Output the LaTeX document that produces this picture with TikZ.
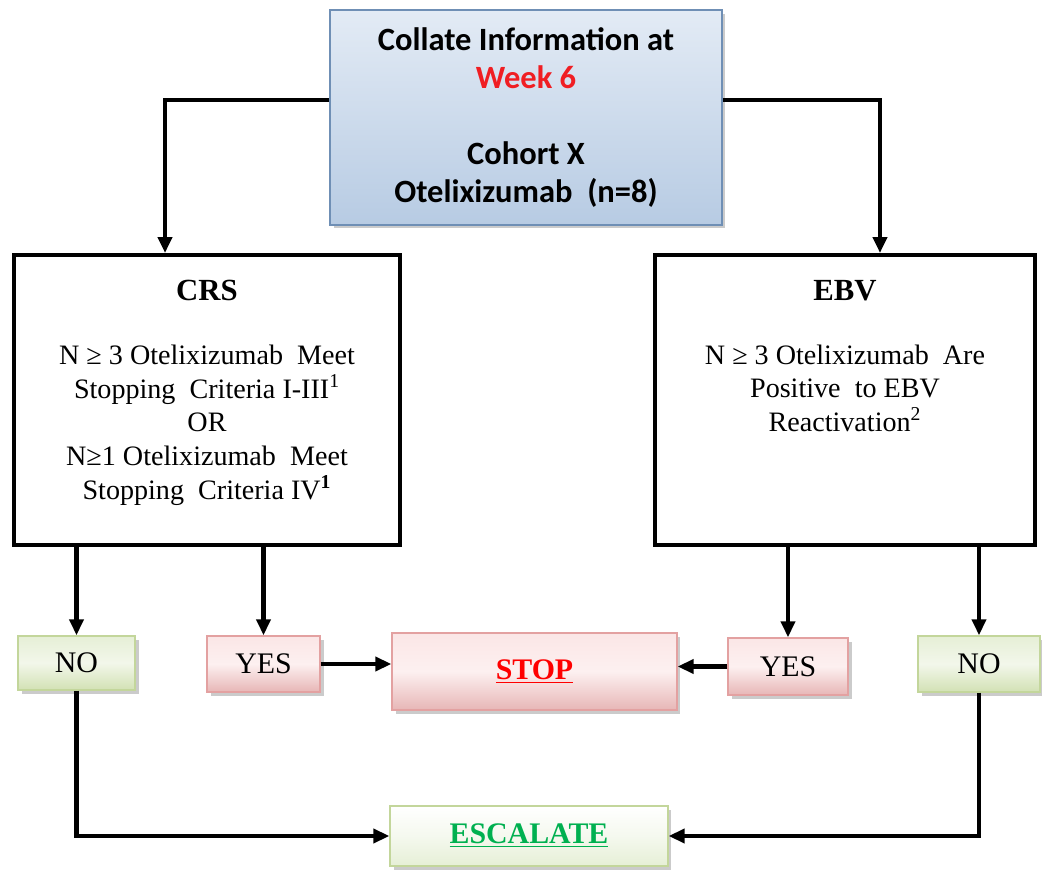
\documentclass[tikz,border=0pt]{standalone}
\usepackage{fontspec}
\setmainfont{Liberation Serif}
\newfontfamily\calibri{Carlito}
\usepackage{xcolor}
\definecolor{infotop}{HTML}{E3EBF5}
\definecolor{infobottom}{HTML}{B7CBE3}
\definecolor{infoborder}{HTML}{6F8FB5}
\definecolor{weekred}{HTML}{F01E23}
\definecolor{pinktop}{HTML}{FBE6E6}
\definecolor{pinkbottom}{HTML}{E7B6B6}
\definecolor{pinkborder}{HTML}{E3A1A1}
\definecolor{greentop}{HTML}{E6EFD6}
\definecolor{greenbottom}{HTML}{D2E1B4}
\definecolor{greenborder}{HTML}{C3D69B}
\definecolor{stopred}{HTML}{FF0000}
\definecolor{escgreen}{HTML}{00B050}
\usetikzlibrary{arrows.meta, shadows}
\tikzset{
  >={Triangle[length=3.2mm, width=2.8mm]},
  every node/.style={font=\fontsize{16}{19.2}\selectfont},
  softshadow/.style={drop shadow={shadow xshift=2pt, shadow yshift=-2pt,
    fill=black!45, opacity=0.45}},
  infobox/.style={
    rectangle, draw=infoborder, line width=0.9pt, top color=infotop,
    bottom color=infobottom, softshadow, align=center,
    font=\calibri\bfseries\fontsize{18.5}{21.5}\selectfont
  },
  critbox/.style={
    rectangle, draw=black, line width=2.3pt, fill=white
  },
  crittext/.style={align=center, anchor=north, inner sep=0pt},
  yesbox/.style={
    rectangle, draw=pinkborder, line width=0.8pt, top color=pinktop,
    bottom color=pinkbottom, middle color=pinktop!60!white, softshadow,
    align=center, font=\fontsize{17}{20}\selectfont
  },
  nobox/.style={
    rectangle, draw=greenborder, line width=0.8pt, top color=greentop,
    bottom color=greenbottom, middle color=greentop!50!white, softshadow,
    align=center, font=\fontsize{17}{20}\selectfont
  },
  flow/.style={->, black, line width=2.3pt}
}

\begin{document}
\begin{tikzpicture}[x=0.02cm, y=-0.02cm]
\useasboundingbox (0,0) rectangle (1042,878);

% Collate box
\node[infobox, minimum width=7.84cm, minimum height=4.3cm] (top) at (526,117.5)
  {Collate Information at\\
   \textcolor{weekred}{Week 6}\\[21.5pt]
   Cohort X\\
   Otelixizumab~ (n=8)};

% Criteria boxes
\node[critbox, minimum width=7.72cm, minimum height=5.8cm] (crs) at (207,400) {};
\node[crittext] (crsT) at ([yshift=-0.54cm]crs.north)
  {\textbf{\fontsize{17.5}{20}\selectfont CRS}\\[17pt]
   N ≥ 3 Otelixizumab~ Meet\\
   Stopping~ Criteria I-III\textsuperscript{1}\\
   OR\\
   N≥1 Otelixizumab~ Meet\\
   Stopping~ Criteria IV\textsuperscript{\textbf{1}}};
\node[critbox, minimum width=7.6cm, minimum height=5.8cm] (ebv) at (845,400) {};
\node[crittext] (ebvT) at ([yshift=-0.54cm]ebv.north)
  {\textbf{\fontsize{17.5}{20}\selectfont EBV}\\[17pt]
   N ≥ 3 Otelixizumab~ Are\\
   Positive~ to EBV\\
   Reactivation\textsuperscript{2}};

% Outcome boxes
\node[nobox, minimum width=2.34cm, minimum height=1.08cm] (noL) at (76.5,663) {NO};
\node[yesbox, minimum width=2.26cm, minimum height=1.12cm] (yesL) at (263.5,664) {YES};
\node[yesbox, minimum width=5.7cm, minimum height=1.54cm, text=stopred,
  font=\bfseries\fontsize{17}{20}\selectfont] (stop) at (534.5,671.5) {\underline{STOP}};
\node[yesbox, minimum width=2.4cm, minimum height=1.14cm] (yesR) at (788,666.5) {YES};
\node[nobox, minimum width=2.44cm, minimum height=1.12cm] (noR) at (979,664) {NO};
\node[nobox, minimum width=5.56cm, minimum height=1.2cm, text=escgreen,
  top color=white, bottom color=greentop, middle color=greentop!40!white,
  font=\bfseries\fontsize{17}{20}\selectfont] (esc) at (529,836) {\underline{ESCALATE}};

% Edges - from collate box
\draw[flow] ([yshift=0.35cm]top.west) -| ([xshift=-0.84cm]crs.north);
\draw[flow] ([yshift=0.35cm]top.east) -| ([xshift=0.7cm]ebv.north);

% Edges - criteria to outcomes
\draw[flow] (noL.north |- crs.south) -- (noL.north);
\draw[flow] (yesL.north |- crs.south) -- (yesL.north);
\draw[flow] (yesR.north |- ebv.south) -- (yesR.north);
\draw[flow] (noR.north |- ebv.south) -- (noR.north);

% Edges - to stop / escalate
\draw[flow] (yesL.east) -- (yesL.east -| stop.west);
\draw[flow] (yesR.west) -- (yesR.west -| stop.east);
\draw[flow] (noL.south) |- (esc.west);
\draw[flow] (noR.south) |- (esc.east);

\end{tikzpicture}
\end{document}
